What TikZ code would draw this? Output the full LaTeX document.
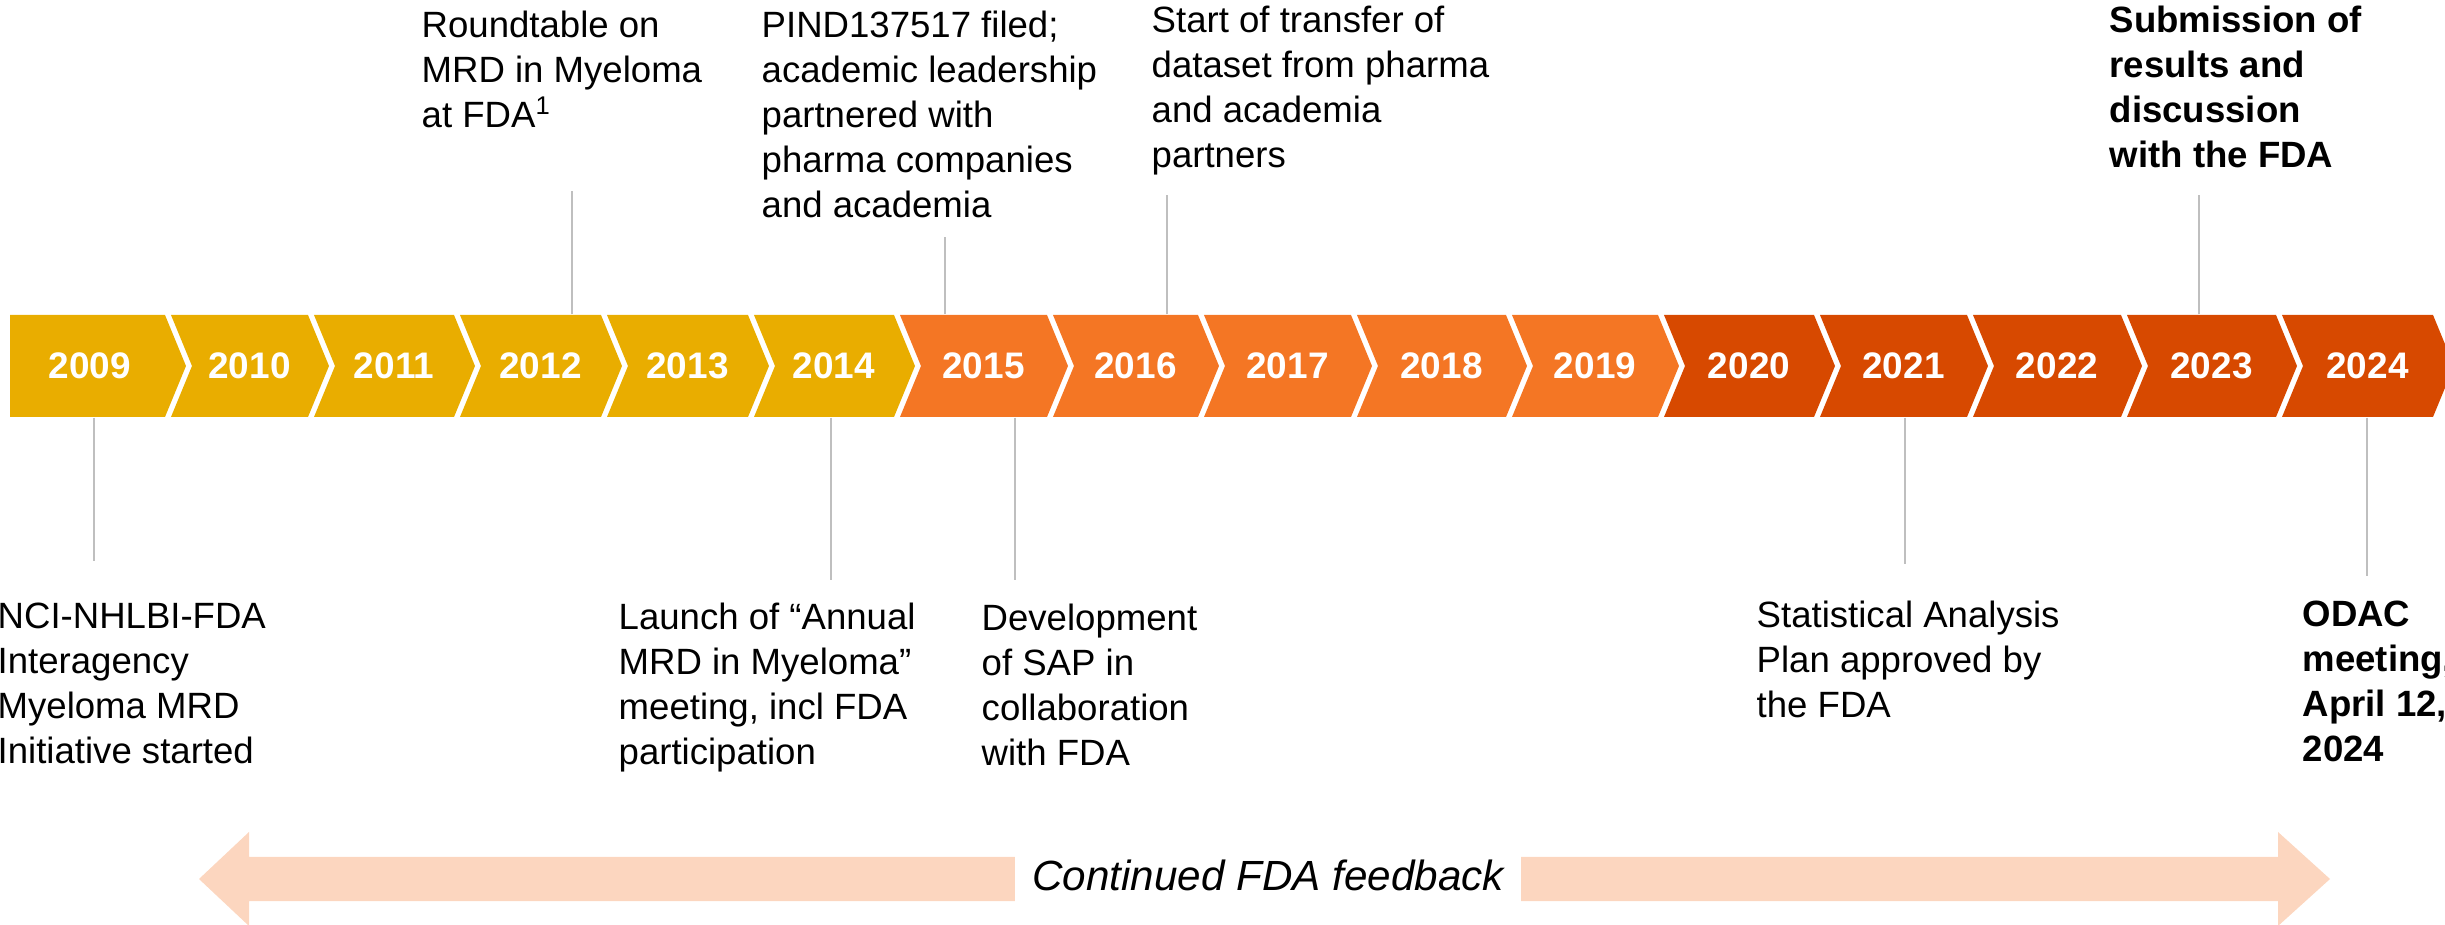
\documentclass[tikz,border=0pt]{standalone}
\usepackage{fontspec}
\setmainfont{Liberation Sans}
\usetikzlibrary{positioning}

\definecolor{gold}{HTML}{E9AD00}
\definecolor{tangerine}{HTML}{F47624}
\definecolor{rust}{HTML}{D74900}
\definecolor{peach}{HTML}{FCD6BF}
\definecolor{guide}{HTML}{BFBFBF}

\tikzset{
  yearlbl/.style={text=white, font=\fontsize{10.5}{12}\selectfont\bfseries, minimum height=1.02cm, inner sep=0pt},
  event/.style={anchor=north west, align=left, inner sep=0pt, font=\fontsize{10.4}{12.8}\selectfont},
  guideline/.style={draw=guide, line width=0.6pt},
}

\begin{document}
\begin{tikzpicture}[x=0.01cm, y=-0.01cm]
  \useasboundingbox (0,0) rectangle (2445,925);

  %Chevrons
  \fill[gold] (10,315) -- (165,315) -- (186,366) -- (165,417) -- (10,417) -- cycle;
  \node[yearlbl] (y2009) at (90,366) {2009};
  \foreach \yr/\l/\r/\c in {2010/171/308/gold, 2011/314/454/gold, 2012/460/601/gold,
      2013/607/748/gold, 2014/754/894/gold, 2015/900/1047/tangerine,
      2016/1053/1198/tangerine, 2017/1204/1351/tangerine, 2018/1357/1506/tangerine,
      2019/1512/1658/tangerine, 2020/1664/1814/rust, 2021/1820/1967/rust,
      2022/1973/2121/rust, 2023/2127/2276/rust, 2024/2282/2433/rust}
  {
    \fill[\c] (\l,315) -- (\r,315) -- ({\r+21},366) -- (\r,417) -- (\l,417) -- ({\l+21},366) -- cycle;
    \node[yearlbl] (y\yr) at ({(\l+\r)/2+10},366) {\yr};
  }

  %Events above
  \node[event] (t12) at (421,10) {Roundtable on\\MRD in Myeloma\\at FDA\textsuperscript{1}};
  \node[event] (t15a) at (761,10) {PIND137517 filed;\\academic leadership\\partnered with\\pharma companies\\and academia};
  \node[event] (t16) at (1151,5) {Start of transfer of\\dataset from pharma\\and academia\\partners};
  \node[event, font=\fontsize{10.4}{12.8}\selectfont\bfseries] (t23) at (2109,5) {Submission of\\results and\\discussion\\with the FDA};

  %Events below
  \node[event] (t09) at (-3,602) {NCI-NHLBI-FDA\\Interagency\\Myeloma MRD\\Initiative started};
  \node[event] (t14) at (618,602) {Launch of “Annual\\MRD in Myeloma”\\meeting, incl FDA\\participation};
  \node[event] (t15b) at (981,603) {Development\\of SAP in\\collaboration\\with FDA};
  \node[event] (t21) at (1756,600) {Statistical Analysis\\Plan approved by\\the FDA};
  \node[event, font=\fontsize{10.4}{12.8}\selectfont\bfseries] (t24) at (2302,600) {ODAC\\meeting,\\April 12,\\2024};

  %Guide lines
  \coordinate (e09) at (94,561);
  \coordinate (e12) at (572,191);
  \coordinate (e14) at (831,580);
  \coordinate (e15a) at (945,237);
  \coordinate (e15b) at (1015,580);
  \coordinate (e16) at (1167,195);
  \coordinate (e21) at (1905,564);
  \coordinate (e23) at (2199,195);
  \coordinate (e24) at (2367,576);
  \draw[guideline] (y2009.south -| e09) -- (e09);
  \draw[guideline] (y2012.north -| e12) -- (e12);
  \draw[guideline] (y2014.south -| e14) -- (e14);
  \draw[guideline] (y2015.north -| e15a) -- (e15a);
  \draw[guideline] (y2015.south -| e15b) -- (e15b);
  \draw[guideline] (y2016.north -| e16) -- (e16);
  \draw[guideline] (y2021.south -| e21) -- (e21);
  \draw[guideline] (y2023.north -| e23) -- (e23);
  \draw[guideline] (y2024.south -| e24) -- (e24);

  %Feedback arrow
  \coordinate (fbL) at (199,879);
  \coordinate (fbR) at (2330,879);
  \fill[peach] (fbL) -- ++(50,-47) -- ++(0,25) -- (2278,857) -- ++(0,-25) -- (fbR)
    -- ++(-52,47) -- ++(0,-25) -- (249,901) -- ++(0,25) -- cycle;
  \node[fill=white, inner xsep=0.17cm, minimum height=0.6cm, font=\fontsize{12}{14}\selectfont\itshape] (fb) at (1268,875) {Continued FDA feedback};
\end{tikzpicture}
\end{document}
